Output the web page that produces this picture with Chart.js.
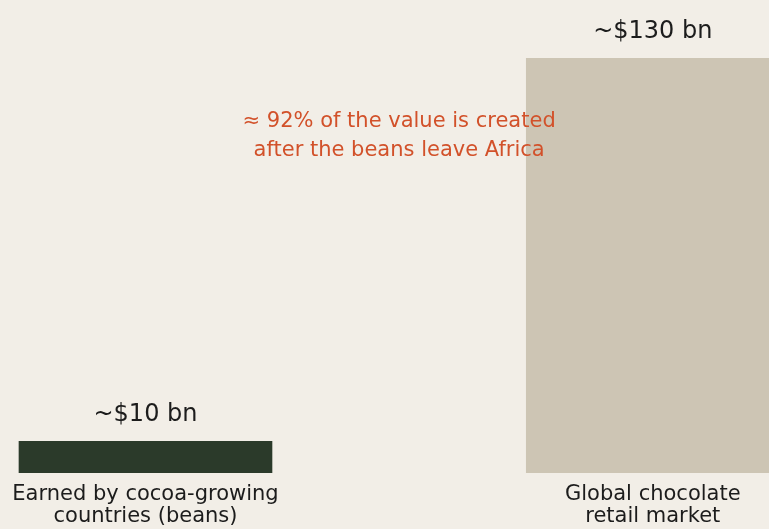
<!DOCTYPE html>
<html>
<head>
<meta charset="utf-8">
<script src="https://cdn.jsdelivr.net/npm/chart.js@4/dist/chart.umd.min.js"></script>
<style>
  html, body { margin: 0; padding: 0; background: #f2eee7; }
  #wrap { width: 769px; height: 529px; position: relative; }
</style>
</head>
<body>
<div id="wrap"><canvas id="c" width="769" height="529"></canvas></div>
<script>
// Cocoa value chain: what producing countries earn vs. the retail market
const categories = [
  ["Earned by cocoa-growing", "countries (beans)"],
  ["Global chocolate", "retail market"]
];
const valuesBn = [10, 130];
const valueLabels = ["~$10 bn", "~$130 bn"];
const barColors = ["#2b3a2a", "#cdc5b4"];
const noteLines = ["\u2248 92% of the value is created", "after the beans leave Africa"];

const FONT = "'DejaVu Sans', sans-serif";
const INK = "#1c1c1c";
const NOTE_INK = "#d2512a";

// value captions above each bar + the centred note
const labelPlugin = {
  id: "barCaptions",
  afterDatasetsDraw(chart) {
    const ctx = chart.ctx;
    const meta = chart.getDatasetMeta(0);
    ctx.save();
    ctx.fillStyle = INK;
    ctx.font = "24px " + FONT;
    ctx.textAlign = "center";
    ctx.textBaseline = "alphabetic";
    meta.data.forEach((bar, i) => {
      ctx.fillText(valueLabels[i], bar.x, bar.y - 20);
    });
    const xs = chart.scales.x, ys = chart.scales.y;
    const nx = xs.getPixelForValue(0.5);
    const ny = ys.getPixelForValue(108.3);
    ctx.fillStyle = NOTE_INK;
    ctx.font = "21px " + FONT;
    noteLines.forEach((t, i) => ctx.fillText(t, nx, ny + i * 28.4));
    ctx.restore();
  }
};

new Chart(document.getElementById("c"), {
  type: "bar",
  data: {
    datasets: [{
      data: valuesBn.map((v, i) => ({ x: i, y: v })),
      backgroundColor: barColors,
      borderWidth: 0,
      categoryPercentage: 1,
      barPercentage: 0.5
    }]
  },
  options: {
    responsive: false,
    animation: false,
    layout: { padding: { top: 10, left: 0, right: 0, bottom: 0 } },
    plugins: { legend: { display: false }, tooltip: { enabled: false } },
    scales: {
      x: {
        type: "linear",
        offset: false,
        min: -0.2868,
        max: 1.2291,
        grid: { display: false, drawTicks: false },
        border: { display: false },
        afterBuildTicks(scale) {
          scale.ticks = categories.map((_, i) => ({ value: i }));
        },
        afterFit(scale) { scale.height = 56; },
        ticks: {
          autoSkip: false,
          maxRotation: 0,
          padding: 10,
          color: INK,
          font: { family: FONT, size: 21, lineHeight: 1.07 },
          callback: (v) => categories[v] || ""
        }
      },
      y: {
        display: false,
        min: 0,
        max: 145
      }
    }
  },
  plugins: [labelPlugin]
});
</script>
</body>
</html>
